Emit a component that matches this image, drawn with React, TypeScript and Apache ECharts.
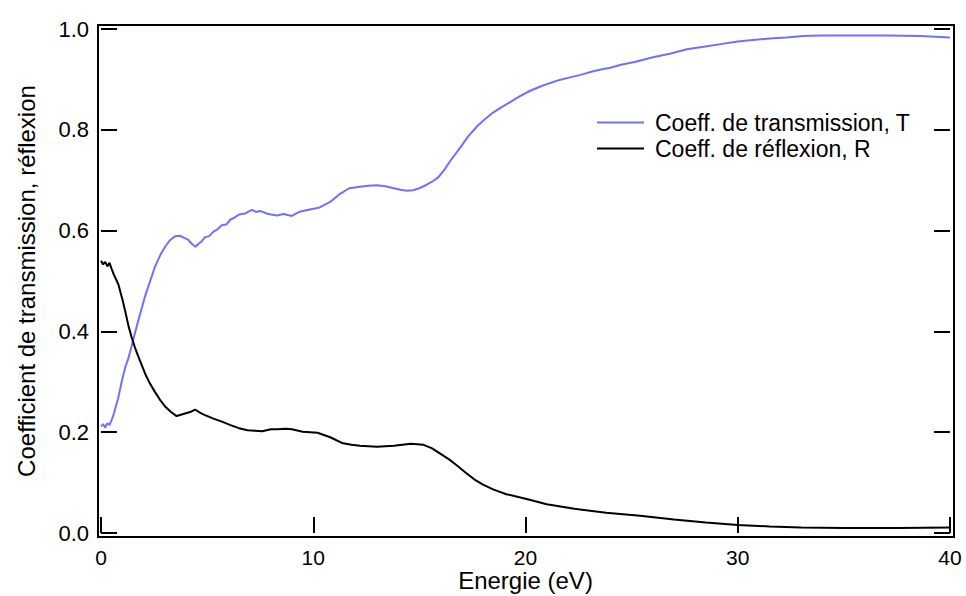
import React, { useEffect, useRef } from "react";
import * as echarts from "echarts";

const FONT = "'Liberation Sans', Arial, Helvetica, sans-serif";

const seriesNames = ["Coeff. de transmission, T", "Coeff. de réflexion, R"];
const xTicks = [0, 10, 20, 30, 40];
const yTicks = [0, 0.2, 0.4, 0.6, 0.8, 1.0];

const tEnergy = [0, 0.1, 0.2, 0.3, 0.4, 0.5, 0.6, 0.8, 1.0, 1.15, 1.3, 1.45, 1.6, 1.8, 2.07, 2.3, 2.54, 2.8, 3.02, 3.25, 3.5, 3.7, 3.9, 4.1, 4.3, 4.45, 4.6, 4.75, 4.9, 5.1, 5.3, 5.5, 5.7, 5.9, 6.1, 6.3, 6.5, 6.8, 7.1, 7.3, 7.5, 7.8, 8.0, 8.3, 8.6, 9.0, 9.2, 9.4, 9.85, 10.3, 10.8, 11.3, 11.7, 12.2, 12.6, 13.0, 13.4, 13.8, 14.1, 14.4, 14.7, 15.0, 15.3, 15.6, 15.9, 16.2, 16.5, 16.9, 17.3, 17.7, 18.0, 18.4, 18.8, 19.2, 19.7, 20.2, 20.7, 21.1, 21.6, 22.1, 22.6, 23.0, 23.5, 24.0, 24.5, 25.2, 26.0, 26.8, 27.6, 28.4, 29.2, 30.0, 30.7, 31.5, 32.3, 33.1, 33.9, 35.5, 37.0, 38.6, 40.0];
const tValues = [0.212, 0.216, 0.209, 0.218, 0.214, 0.224, 0.236, 0.266, 0.305, 0.33, 0.348, 0.372, 0.397, 0.428, 0.469, 0.498, 0.528, 0.552, 0.568, 0.581, 0.589, 0.59, 0.586, 0.582, 0.573, 0.568, 0.574, 0.579, 0.587, 0.589, 0.598, 0.603, 0.611, 0.612, 0.622, 0.626, 0.632, 0.634, 0.641, 0.637, 0.639, 0.634, 0.632, 0.63, 0.633, 0.629, 0.634, 0.638, 0.642, 0.646, 0.657, 0.674, 0.684, 0.687, 0.689, 0.69, 0.688, 0.684, 0.681, 0.679, 0.68, 0.684, 0.69, 0.697, 0.706, 0.722, 0.741, 0.763, 0.787, 0.806, 0.818, 0.832, 0.843, 0.853, 0.866, 0.877, 0.886, 0.892, 0.899, 0.904, 0.909, 0.914, 0.919, 0.923, 0.929, 0.935, 0.944, 0.951, 0.96, 0.965, 0.97, 0.975, 0.978, 0.981, 0.983, 0.986, 0.987, 0.987, 0.987, 0.986, 0.983];

const rEnergy = [0, 0.1, 0.2, 0.3, 0.4, 0.5, 0.6, 0.82, 1.0, 1.13, 1.3, 1.44, 1.6, 1.76, 2.07, 2.3, 2.54, 2.8, 3.02, 3.3, 3.56, 3.8, 3.96, 4.2, 4.43, 4.7, 4.9, 5.3, 5.7, 6.1, 6.5, 6.9, 7.26, 7.6, 8.0, 8.3, 8.7, 9.0, 9.5, 10.2, 10.8, 11.4, 11.8, 12.2, 13.0, 13.8, 14.6, 15.2, 15.6, 16.0, 16.4, 16.8, 17.2, 17.6, 18.0, 18.5, 19.1, 20.1, 21.0, 22.3, 23.8, 25.4, 27.0, 28.5, 30.0, 31.5, 33.0, 35.0, 37.5, 40.0];
const rValues = [0.54, 0.533, 0.538, 0.529, 0.536, 0.524, 0.513, 0.493, 0.465, 0.442, 0.41, 0.389, 0.368, 0.35, 0.317, 0.297, 0.28, 0.263, 0.251, 0.24, 0.232, 0.235, 0.237, 0.24, 0.245, 0.238, 0.234, 0.227, 0.221, 0.214, 0.208, 0.204, 0.203, 0.202, 0.206, 0.206, 0.207, 0.206, 0.201, 0.199, 0.19, 0.178, 0.175, 0.173, 0.171, 0.173, 0.177, 0.175, 0.168, 0.157, 0.146, 0.133, 0.119, 0.106, 0.096, 0.086, 0.077, 0.067, 0.057, 0.048, 0.04, 0.034, 0.027, 0.021, 0.016, 0.013, 0.011, 0.01, 0.01, 0.011];

const xName = "Energie (eV)";
const yName = "Coefficient de transmission, réflexion";

export default function App() {
  const ref = useRef<HTMLDivElement>(null);
  useEffect(() => {
    if (!ref.current) return;
    const chart = echarts.init(ref.current, undefined, { renderer: "svg" });
    const tickStyle = { show: true, inside: true, length: 16, lineStyle: { color: "#000", width: 2 } };
    const labelStyle = { color: "#000", fontSize: 22, fontFamily: FONT };
    chart.setOption({
      animation: false,
      backgroundColor: "#fff",
      grid: { left: 101, right: 16, top: 29, bottom: 63, containLabel: false, outerBoundsMode: "none" },
      legend: {
        orient: "vertical",
        left: 597,
        top: 111,
        padding: 0,
        itemWidth: 47,
        itemHeight: 2,
        itemGap: 3,
        icon: "rect",
        data: seriesNames,
        textStyle: { color: "#000", fontSize: 23, fontFamily: FONT, padding: [0, 0, 0, 6] },
      },
      xAxis: {
        type: "value",
        min: xTicks[0],
        max: xTicks[xTicks.length - 1],
        interval: 10,
        name: xName,
        nameLocation: "middle",
        nameGap: 37,
        nameMoveOverlap: false,
        nameTextStyle: { color: "#000", fontSize: 24, lineHeight: 20, fontFamily: FONT },
        axisLine: { show: false },
        axisTick: tickStyle,
        splitLine: { show: false },
        axisLabel: { ...labelStyle, fontSize: 21, lineHeight: 18, margin: 15 },
      },
      yAxis: [
        {
          type: "value",
          min: yTicks[0],
          max: yTicks[yTicks.length - 1],
          interval: 0.2,
          name: yName,
          nameLocation: "middle",
          nameGap: 63,
          nameMoveOverlap: false,
          nameTextStyle: { color: "#000", fontSize: 24, fontFamily: FONT },
          axisLine: { show: false },
          axisTick: tickStyle,
          splitLine: { show: false },
          axisLabel: { ...labelStyle, margin: 12, formatter: (v: number) => v.toFixed(1) },
        },
        {
          type: "value",
          position: "right",
          min: yTicks[0],
          max: yTicks[yTicks.length - 1],
          interval: 0.2,
          axisLine: { show: false },
          axisTick: tickStyle,
          splitLine: { show: false },
          axisLabel: { show: false },
        },
      ],
      graphic: [
        {
          type: "rect",
          shape: { x: 98, y: 25, width: 856, height: 512 },
          style: { fill: "none", stroke: "#000", lineWidth: 2 },
          silent: true,
          z: 10,
        },
      ],
      series: [
        {
          name: seriesNames[0],
          type: "line",
          data: tEnergy.map((e, i) => [e, tValues[i]]),
          showSymbol: false,
          symbol: "none",
          lineStyle: { color: "#7070ff", width: 2 },
          itemStyle: { color: "#7070ff" },
        },
        {
          name: seriesNames[1],
          type: "line",
          data: rEnergy.map((e, i) => [e, rValues[i]]),
          showSymbol: false,
          symbol: "none",
          lineStyle: { color: "#000", width: 2 },
          itemStyle: { color: "#000" },
        },
      ],
    });
    return () => chart.dispose();
  }, []);
  return <div ref={ref} style={{ position: "fixed", left: 0, top: 0, width: 966, height: 596 }} />;
}
